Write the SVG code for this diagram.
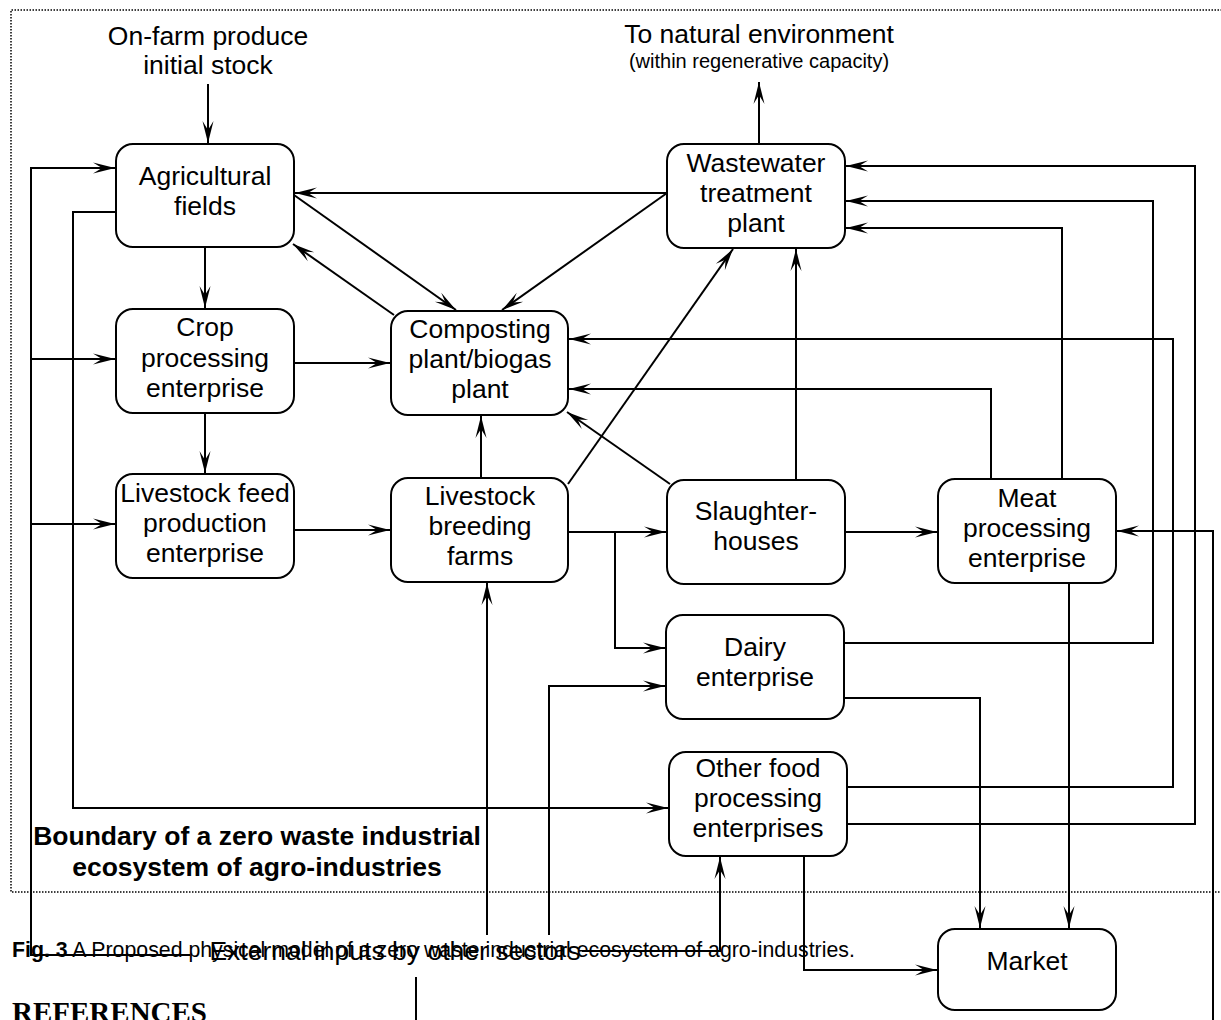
<svg xmlns="http://www.w3.org/2000/svg" width="1221" height="1020" viewBox="0 0 1221 1020">
<style>
.n{fill:#fff;stroke:#000;stroke-width:2}
.c{fill:none;stroke:#000;stroke-width:2}
.a{marker-end:url(#ah)}
.t{font-family:"Liberation Sans",Arial,sans-serif;font-size:26.5px;text-anchor:middle;fill:#000}
.b{font-weight:bold}
.s{font-size:20px}
.cap{font-family:"Liberation Sans",Arial,sans-serif;font-size:21.3px;fill:#000}
.ref{font-family:"Liberation Serif","Times New Roman",serif;font-size:29px;font-weight:bold;fill:#000}
.bd{fill:none;stroke:#000;stroke-width:1.5;stroke-dasharray:1.5 1.5}
</style>
<defs>
<marker id="ah" markerUnits="userSpaceOnUse" markerWidth="24" markerHeight="14" viewBox="-23 -7 24 14" refX="0" refY="0" orient="auto">
<path d="M0,0 L-22,-5.5 L-13,0 L-22,5.5 Z" fill="#000"/>
</marker>
</defs>
<rect width="1221" height="1020" fill="#fff"/>
<path class="bd" d="M1222,10 H11 V892 H1222"/>
<g id="connectors">
<path class="c a" d="M208,84 V143"/>
<path class="c a" d="M190,955 H31 V168 H115"/>
<path class="c a" d="M31,359 H115"/>
<path class="c a" d="M31,524 H115"/>
<path class="c a" d="M116,212 H73 V808 H668"/>
<path class="c a" d="M205,247 V308"/>
<path class="c a" d="M205,413 V473"/>
<path class="c a" d="M294,363 H390"/>
<path class="c a" d="M294,530 H390"/>
<path class="c a" d="M294,195 L456,310"/>
<path class="c a" d="M394,315 L293,244"/>
<path class="c a" d="M667,193 H295"/>
<path class="c a" d="M667,193 L502,310"/>
<path class="c a" d="M759,144 V82"/>
<path class="c a" d="M568,484 L733,249"/>
<path class="c a" d="M481,478 V416"/>
<path class="c a" d="M670,484 L567,412"/>
<path class="c a" d="M796,480 V249"/>
<path class="c a" d="M568,532 H666"/>
<path class="c a" d="M615,532 V648 H665"/>
<path class="c a" d="M845,532 H937"/>
<path class="c a" d="M991,479 V389 H569"/>
<path class="c a" d="M1062,479 V228 H846"/>
<path class="c a" d="M844,643 H1153 V201 H846"/>
<path class="c a" d="M847,787 H1173 V339 H569"/>
<path class="c a" d="M847,824 H1195 V166 H846"/>
<path class="c a" d="M844,698 H980 V928"/>
<path class="c a" d="M1069,583 V928"/>
<path class="c a" d="M804,856 V970 H937"/>
<path class="c a" d="M487,935 V583"/>
<path class="c a" d="M549,935 V686 H665"/>
<path class="c a" d="M582,951 H720 V857"/>
<path class="c" d="M416,977 V1022"/>
<path class="c a" d="M1213,1022 V531 H1117"/>
</g>
<g id="agri"><rect class="n" x="116" y="144" width="178" height="103" rx="17"/><text class="t" x="205" y="185">Agricultural</text><text class="t" x="205" y="215">fields</text></g>
<g id="crop"><rect class="n" x="116" y="309" width="178" height="104" rx="17"/><text class="t" x="205" y="336">Crop</text><text class="t" x="205" y="367">processing</text><text class="t" x="205" y="397">enterprise</text></g>
<g id="feed"><rect class="n" x="116" y="474" width="178" height="104" rx="17"/><text class="t" x="205" y="502">Livestock feed</text><text class="t" x="205" y="532">production</text><text class="t" x="205" y="562">enterprise</text></g>
<g id="compost"><rect class="n" x="391" y="311" width="177" height="104" rx="17"/><text class="t" x="480" y="338">Composting</text><text class="t" x="480" y="368">plant/biogas</text><text class="t" x="480" y="398">plant</text></g>
<g id="breeding"><rect class="n" x="391" y="478" width="177" height="104" rx="17"/><text class="t" x="480" y="505">Livestock</text><text class="t" x="480" y="535">breeding</text><text class="t" x="480" y="565">farms</text></g>
<g id="slaughter"><rect class="n" x="667" y="480" width="178" height="104" rx="17"/><text class="t" x="756" y="520">Slaughter-</text><text class="t" x="756" y="550">houses</text></g>
<g id="meat"><rect class="n" x="938" y="479" width="178" height="104" rx="17"/><text class="t" x="1027" y="507">Meat</text><text class="t" x="1027" y="537">processing</text><text class="t" x="1027" y="567">enterprise</text></g>
<g id="wastewater"><rect class="n" x="667" y="144" width="178" height="104" rx="17"/><text class="t" x="756" y="172">Wastewater</text><text class="t" x="756" y="202">treatment</text><text class="t" x="756" y="232">plant</text></g>
<g id="dairy"><rect class="n" x="666" y="615" width="178" height="104" rx="17"/><text class="t" x="755" y="656">Dairy</text><text class="t" x="755" y="686">enterprise</text></g>
<g id="otherfood"><rect class="n" x="669" y="752" width="178" height="104" rx="17"/><text class="t" x="758" y="777">Other food</text><text class="t" x="758" y="807">processing</text><text class="t" x="758" y="837">enterprises</text></g>
<g id="market"><rect class="n" x="938" y="929" width="178" height="81" rx="17"/><text class="t" x="1027" y="970">Market</text></g>
<g id="labels">
<text class="t" x="208" y="45">On-farm produce</text>
<text class="t" x="208" y="74">initial stock</text>
<text class="t" x="759" y="43">To natural environment</text>
<text class="t s" x="759" y="68">(within regenerative capacity)</text>
<text class="t b" x="257" y="845">Boundary of a zero waste industrial</text>
<text class="t b" x="257" y="876">ecosystem of agro-industries</text>
<text class="cap" x="12" y="957"><tspan font-weight="bold">Fig. 3</tspan> A Proposed physical model of a zero waste industrial ecosystem of agro-industries.</text>
<text class="t" x="395" y="960">External inputs by other sectors</text>
<text class="ref" x="12" y="1022">REFERENCES</text>
</g>
</svg>
